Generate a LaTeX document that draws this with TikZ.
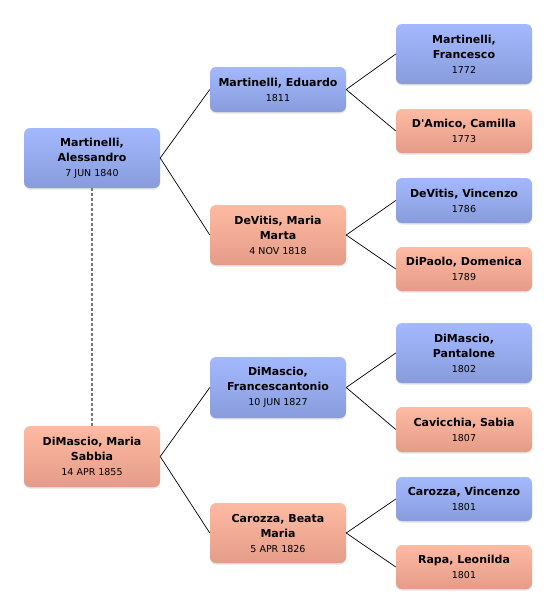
\documentclass[tikz,border=0pt]{standalone}
\usepackage{fontspec}
\setmainfont{DejaVu Sans}[Ligatures=TeXOff]
\usetikzlibrary{shadows}
\definecolor{blueT}{HTML}{A4B9FD}
\definecolor{blueB}{HTML}{889CDC}
\definecolor{pinkT}{HTML}{FEBAA3}
\definecolor{pinkB}{HTML}{E49C88}
\definecolor{dotgray}{HTML}{777777}
\tikzset{
  person/.style={rounded corners=6pt, minimum width=136pt, inner sep=0pt, align=center,
    font=\fontsize{11}{15}\selectfont\bfseries,
    drop shadow={opacity=0.22, shadow xshift=0pt, shadow yshift=-1.5pt}},
  male/.style={person, top color=blueT, bottom color=blueB},
  female/.style={person, top color=pinkT, bottom color=pinkB},
  link/.style={draw=black, line width=0.7pt},
  spouse/.style={draw=dotgray, line width=2pt, dash pattern=on 2.5pt off 2.5pt}
}
\newcommand{\dt}[1]{\fontsize{9.5}{14}\selectfont\mdseries #1}
\begin{document}
\begin{tikzpicture}[x=1pt,y=-1pt]
\useasboundingbox (0,0) rectangle (556,614);
% level 0
\node[male, minimum height=60pt] (a) at (92,158) {Martinelli,\\Alessandro\\\dt{7 JUN 1840}};
\node[female, minimum height=61pt] (b) at (92,456.5) {DiMascio, Maria\\Sabbia\\\dt{14 APR 1855}};
% level 1
\node[male, minimum height=45pt] (e) at (278,89.5) {Martinelli, Eduardo\\\dt{1811}};
\node[female, minimum height=60pt] (d) at (278,235) {DeVitis, Maria\\Marta\\\dt{4 NOV 1818}};
\node[male, minimum height=61pt] (f) at (278,387.5) {DiMascio,\\Francescantonio\\\dt{10 JUN 1827}};
\node[female, minimum height=60pt] (c) at (278,533) {Carozza, Beata\\Maria\\\dt{5 APR 1826}};
% level 2
\node[male, minimum height=60pt] (r1) at (464,54) {Martinelli,\\Francesco\\\dt{1772}};
\node[female, minimum height=44pt] (r2) at (464,131) {D'Amico, Camilla\\\dt{1773}};
\node[male, minimum height=45pt] (r3) at (464,200.5) {DeVitis, Vincenzo\\\dt{1786}};
\node[female, minimum height=44pt] (r4) at (464,269) {DiPaolo, Domenica\\\dt{1789}};
\node[male, minimum height=60pt] (r5) at (464,353) {DiMascio,\\Pantalone\\\dt{1802}};
\node[female, minimum height=45pt] (r6) at (464,429.5) {Cavicchia, Sabia\\\dt{1807}};
\node[male, minimum height=44pt] (r7) at (464,499) {Carozza, Vincenzo\\\dt{1801}};
\node[female, minimum height=44pt] (r8) at (464,567) {Rapa, Leonilda\\\dt{1801}};
% connectors
\draw[spouse] (a.south) -- (b.north);
\draw[link] (a.east) -- (e.west);
\draw[link] (a.east) -- (d.west);
\draw[link] (b.east) -- (f.west);
\draw[link] (b.east) -- (c.west);
\draw[link] (e.east) -- (r1.west);
\draw[link] (e.east) -- (r2.west);
\draw[link] (d.east) -- (r3.west);
\draw[link] (d.east) -- (r4.west);
\draw[link] (f.east) -- (r5.west);
\draw[link] (f.east) -- (r6.west);
\draw[link] (c.east) -- (r7.west);
\draw[link] (c.east) -- (r8.west);
\end{tikzpicture}
\end{document}
